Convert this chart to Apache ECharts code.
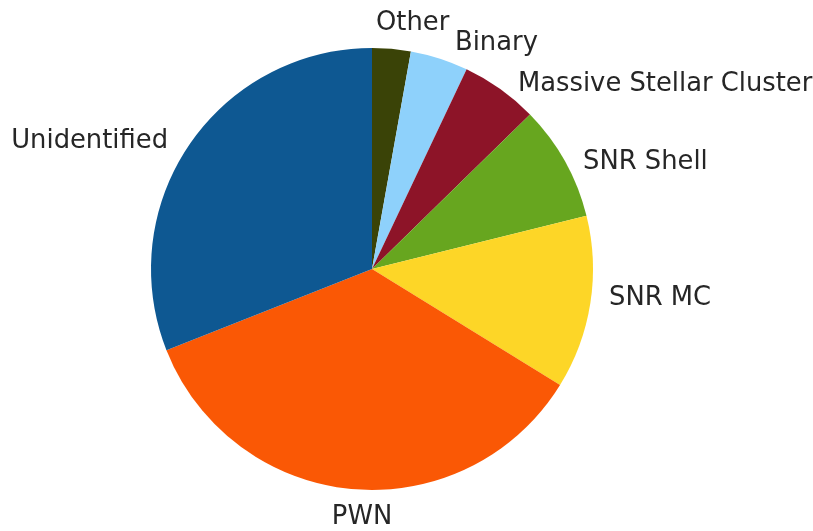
<!DOCTYPE html>
<html>
<head>
<meta charset="utf-8">
<script src="https://cdn.jsdelivr.net/npm/echarts@6/dist/echarts.min.js"></script>
<style>
html,body{margin:0;padding:0;background:#fff;}
#chart{width:813px;height:531px;}
</style>
</head>
<body>
<div id="chart"></div>
<script>
// Data (clockwise from 12 o'clock)
var categories = ['Other', 'Binary', 'Massive Stellar Cluster', 'SNR Shell', 'SNR MC', 'PWN', 'Unidentified'];
var counts = [2, 3, 4, 6, 9, 25, 22];
var colors = ['#3a4307', '#8ed1fb', '#8d1428', '#67a61f', '#fdd627', '#fa5805', '#0e5892'];

// Label placement (pixel anchor, alignment) — layout only
var labelPlacement = [
  {x: 376, y: 23, align: 'left'},
  {x: 455, y: 43, align: 'left'},
  {x: 518, y: 84, align: 'left'},
  {x: 583, y: 162, align: 'left'},
  {x: 609, y: 298, align: 'left'},
  {x: 362, y: 517, align: 'center'},
  {x: 168, y: 141, align: 'right'}
];

var chart = echarts.init(document.getElementById('chart'), null, {renderer: 'canvas'});
chart.setOption({
  backgroundColor: '#ffffff',
  animation: false,
  series: [{
    type: 'pie',
    center: [372, 269],
    radius: [0, 221],
    startAngle: 90,
    clockwise: true,
    avoidLabelOverlap: false,
    itemStyle: {borderWidth: 0},
    label: {
      show: true,
      position: 'outside',
      fontFamily: 'DejaVu Sans',
      fontSize: 25.8,
      color: '#262626'
    },
    labelLine: {show: false},
    labelLayout: function (params) {
      var p = labelPlacement[params.dataIndex];
      return {x: p.x, y: p.y, align: p.align, verticalAlign: 'middle'};
    },
    data: categories.map(function (c, i) {
      return {name: c, value: counts[i], itemStyle: {color: colors[i]}};
    })
  }]
});
</script>
</body>
</html>
